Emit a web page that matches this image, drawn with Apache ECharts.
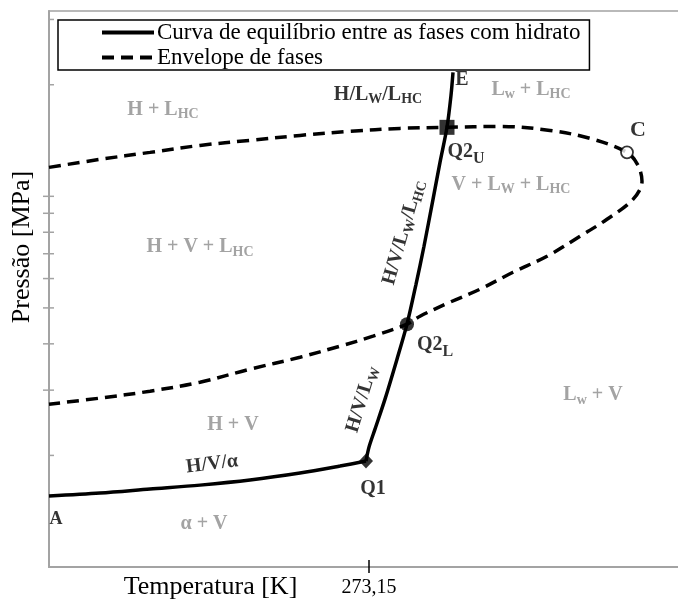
<!DOCTYPE html>
<html>
<head>
<meta charset="utf-8">
<script src="https://cdn.jsdelivr.net/npm/echarts@6/dist/echarts.min.js"></script>
<style>
  html, body { margin: 0; padding: 0; background: #fff; }
  #chart { width: 678px; height: 606px; }
</style>
</head>
<body>
<div id="chart"></div>
<script>
// Temperature axis [K] and pressure axis [MPa] (log scale)
const X_MIN = 241.15;
const X_MAX = 304.65;
const Y_MIN = 1;
const Y_MAX = 31.62;

const xTickValues = [273.15];
const yTickValues = [2, 3, 4, 5, 6, 7, 8, 9, 10, 20, 30];

// Hydrate equilibrium curve, H/V/α branch (A → Q1)
const hvaCurve = [
  [241.15, 1.554], [246.25, 1.583], [251.25, 1.623], [256.25, 1.663],
  [261.25, 1.716], [266.25, 1.792], [270.25, 1.872], [272.85, 1.931]
];

// Hydrate equilibrium curve above Q1 (Q1 → Q2L → Q2U → E)
const upperCurve = [
  [272.85, 1.931], [273.15, 2.106], [273.75, 2.355], [274.75, 2.837],
  [275.95, 3.636], [276.95, 4.519], [277.85, 5.791], [278.65, 7.334],
  [279.55, 9.815], [280.25, 12.35], [280.95, 15.35], [281.35, 18.72],
  [281.55, 21.59]
];

// Phase envelope: dew branch, around the critical point, bubble branch
const envelope = [
  [241.15, 11.97], [246.25, 12.58], [251.25, 13.14], [256.25, 13.72],
  [261.25, 14.16], [266.25, 14.60], [271.25, 14.97], [276.25, 15.25],
  [280.95, 15.35], [286.25, 15.44], [291.25, 15.06], [295.25, 14.33],
  [298.95, 13.14], [300.05, 12.12], [300.45, 10.98], [299.55, 9.815],
  [296.95, 8.670], [294.25, 7.802], [290.95, 6.891], [287.55, 6.239],
  [284.25, 5.615], [281.25, 5.180], [278.25, 4.749], [276.95, 4.519],
  [273.55, 4.195], [270.25, 3.943], [266.25, 3.681], [261.25, 3.418],
  [256.25, 3.152], [251.25, 2.981], [246.25, 2.855], [241.15, 2.750]
];

// Quadruple points and critical point
const pointQ1 = [272.85, 1.931];
const pointQ2L = [276.95, 4.519];
const pointQ2U = [280.95, 15.35];
const pointC = [298.95, 13.14];

// Phase region names [T, P, text]
const regionLabels = [
  [252.55, 17.16, 'H + L{s|HC}'],
  [289.35, 19.43, 'L{s|w} + L{s|HC}'],
  [287.35, 10.77, 'V + L{s|W} + L{s|HC}'],
  [256.25, 7.29, 'H + V + L{s|HC}'],
  [259.55, 2.414, 'H + V'],
  [295.55, 2.908, 'L{s|w} + V'],
  [256.65, 1.306, 'α + V']
];

// Curve and point names [T, P, text, rotation in degrees]
const curveLabels = [
  [282.45, 20.67, 'E', 0],
  [274.05, 18.83, 'H/L{s|W}/L{s|HC}', 0],
  [300.05, 15.06, '{c|C}', 0],
  [282.85, 13.22, 'Q2{q|U}', 0],
  [279.75, 3.967, 'Q2{q|L}', 0],
  [273.55, 1.623, 'Q1', 0],
  [241.85, 1.347, '{a|A}', 0],
  [257.45, 1.895, 'H/V/α', 7],
  [276.6, 8.0, 'H/V/L{s|W}/L{s|HC}', 74],
  [272.45, 2.837, 'H/V/L{s|W}', 73]
];

const EQ_NAME = 'Curva de equilíbrio entre as fases com hidrato';
const ENV_NAME = 'Envelope de fases';
const FONT = "'Liberation Serif', 'Times New Roman', serif";
const AXIS_GRAY = '#a3a3a3';
const LABEL_GRAY = '#8c8c8c';

const richStyles = {
  s: { fontSize: 14, fontWeight: 'bold', fontFamily: FONT, padding: [10, 0, 0, 0] },
  q: { fontSize: 16, fontWeight: 'bold', fontFamily: FONT, padding: [14, 0, 0, 0] },
  c: { fontSize: 22, fontWeight: 'bold', fontFamily: FONT },
  a: { fontSize: 18, fontWeight: 'bold', fontFamily: FONT }
};

function labelSeries(rows, color) {
  return {
    type: 'scatter',
    silent: true,
    symbolSize: 1,
    itemStyle: { color: 'rgba(0,0,0,0)' },
    z: 10,
    label: {
      show: true,
      position: 'inside',
      color: color,
      fontFamily: FONT,
      fontSize: 20,
      fontWeight: 'bold',
      formatter: p => p.name,
      rich: Object.fromEntries(Object.entries(richStyles).map(([k, v]) => [k, Object.assign({ color: color }, v)]))
    },
    data: rows.map(r => ({
      name: r[2],
      value: [r[0], r[1]],
      label: { rotate: r[3] || 0 }
    }))
  };
}

const chart = echarts.init(document.getElementById('chart'), null, { renderer: 'canvas' });

chart.setOption({
  animation: false,
  backgroundColor: '#fff',
  grid: {
    show: true,
    outerBoundsMode: 'none',
    containLabel: false,
    left: 49, right: -6, top: 11, bottom: 39,
    borderColor: AXIS_GRAY, borderWidth: 1.5,
    backgroundColor: 'transparent'
  },
  legend: {
    orient: 'vertical',
    left: 58, top: 20,
    padding: [1, 9, 1, 42],
    itemGap: 2,
    itemWidth: 52,
    itemHeight: 14,
    backgroundColor: '#fff',
    borderColor: '#000',
    borderWidth: 1.5,
    borderRadius: 0,
    itemStyle: { color: 'rgba(0,0,0,0)', borderColor: 'rgba(0,0,0,0)', borderWidth: 0 },
    lineStyle: { width: 4 },
    textStyle: { fontFamily: FONT, fontSize: 23, color: '#000', padding: [0, 0, 0, -2] },
    data: [EQ_NAME, ENV_NAME]
  },
  xAxis: {
    type: 'value',
    min: X_MIN, max: X_MAX,
    name: 'Temperatura [K]',
    nameLocation: 'middle',
    nameGap: 7,
    nameMoveOverlap: false,
    nameTextStyle: { fontFamily: FONT, fontSize: 26, color: '#000', verticalAlign: 'top', padding: [0, 312, 0, 0] },
    axisLine: { lineStyle: { color: AXIS_GRAY, width: 2 } },
    axisTick: { show: false },
    splitLine: { show: false },
    axisLabel: {
      customValues: xTickValues,
      margin: 11,
      fontFamily: FONT, fontSize: 20, color: '#000',
      formatter: v => v.toFixed(2).replace('.', ',')
    }
  },
  yAxis: {
    type: 'log',
    logBase: 10,
    min: Y_MIN, max: Y_MAX,
    name: 'Pressão [MPa]',
    nameLocation: 'middle',
    nameGap: 14,
    nameRotate: 90,
    nameMoveOverlap: false,
    nameTextStyle: { fontFamily: FONT, fontSize: 26, color: '#000', padding: [0, 0, 0, 84] },
    axisLine: { lineStyle: { color: AXIS_GRAY, width: 2 } },
    axisTick: { show: false },
    axisLabel: { show: false },
    splitLine: { show: false }
  },
  series: [
    {
      name: EQ_NAME,
      type: 'line',
      data: hvaCurve,
      smooth: 0.3,
      symbol: 'none',
      lineStyle: { color: '#000', width: 3.5 },
      itemStyle: { color: '#000' },
      z: 3
    },
    {
      name: EQ_NAME,
      type: 'line',
      data: upperCurve,
      smooth: 0.3,
      symbol: 'none',
      lineStyle: { color: '#000', width: 3.5 },
      itemStyle: { color: '#000' },
      z: 3
    },
    {
      name: ENV_NAME,
      type: 'line',
      data: envelope,
      smooth: 0.35,
      symbol: 'none',
      lineStyle: { color: '#000', width: 3.5, type: [12, 7] },
      itemStyle: { color: '#000' },
      z: 2
    },
    {
      type: 'scatter',
      silent: true,
      z: 5,
      data: [
        { value: pointQ1, symbol: 'diamond', symbolSize: [14, 15], itemStyle: { color: '#000' } },
        { value: pointQ2L, symbol: 'circle', symbolSize: 14, itemStyle: { color: '#000' } },
        { value: pointQ2U, symbol: 'rect', symbolSize: 15, itemStyle: { color: '#000' } },
        { value: pointC, symbol: 'circle', symbolSize: 12, itemStyle: { color: '#fff', borderColor: '#000', borderWidth: 1.8 } }
      ]
    },
    // axis tick marks drawn through the axis scales
    {
      type: 'custom',
      silent: true,
      clip: false,
      z: 4,
      data: yTickValues.map(v => [X_MIN, v]),
      renderItem: (params, api) => {
        const v = api.value(1);
        const p = api.coord([X_MIN, v]);
        const inner = (v === 2 || v === 20 || v === 30);
        return {
          type: 'line',
          shape: { x1: inner ? p[0] : p[0] - 6, y1: p[1], x2: p[0] + 5, y2: p[1] },
          style: { stroke: AXIS_GRAY, lineWidth: 1.5 }
        };
      }
    },
    {
      type: 'custom',
      silent: true,
      clip: false,
      z: 4,
      data: xTickValues.map(v => [v, Y_MIN]),
      renderItem: (params, api) => {
        const p = api.coord([api.value(0), Y_MIN]);
        return {
          type: 'line',
          shape: { x1: p[0], y1: p[1] - 7, x2: p[0], y2: p[1] + 6 },
          style: { stroke: '#000', lineWidth: 1.5 }
        };
      }
    },
    labelSeries(regionLabels, LABEL_GRAY),
    labelSeries(curveLabels, '#000')
  ]
});
</script>
</body>
</html>
